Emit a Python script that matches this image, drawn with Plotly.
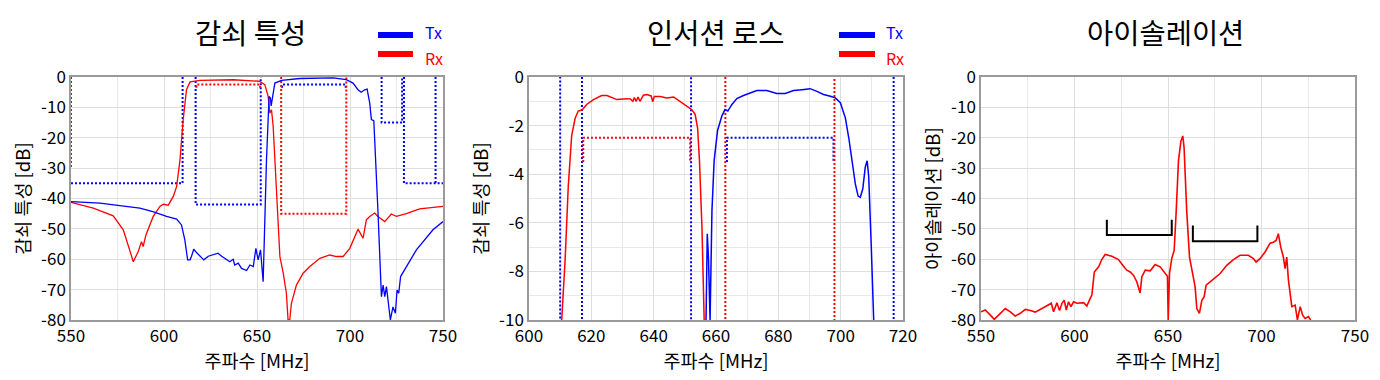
import plotly.graph_objects as go
from plotly.subplots import make_subplots

# ---------------- Panel 1: 감쇠 특성 (attenuation) ----------------
att_tx_f = [550, 565.6, 587, 594, 601.4, 606.8, 609.4, 611.2, 612.7, 614, 614.8, 616, 617.5, 619.3, 621.4,
            623.8, 626.5, 629, 631, 632.7, 635.4, 637.2, 638, 639.9, 641.7, 644.4, 646.2, 648, 649.4, 650.6,
            651.9, 653.3, 655.1, 656.5, 657.2, 657.6, 659.6, 663.2, 673, 691, 698, 701.6, 704.3, 706, 707.9,
            709.2, 710.6, 711.5, 712.8, 715, 716.9, 717.8, 718.7, 719.6, 720.5, 721.7, 723.1, 724.4, 725.3,
            726.2, 727.2, 735.7, 744.6, 750]
att_tx_db = [-41, -41.5, -43.2, -44.3, -45.9, -46.8, -48.7, -53.6, -60.2, -60.2, -59, -56.7, -57.8, -59, -60.2,
             -59, -58.6, -58, -59, -59.7, -60.8, -60, -61.9, -61.3, -63, -63.7, -61.9, -62.4, -56.4, -60.2,
             -56.9, -67.4, -27.3, -6.4, -6.9, -9.5, -2, -1.1, -0.5, -0.3, -0.9, -2, -4.2, -5, -4.2,
             -4, -8.6, -14, -14.4, -43.7, -72.3, -68.5, -72.3, -69, -73.4, -80, -75.7, -77.8, -70.1,
             -71.2, -65.7, -56.9, -50.3, -47.6]

att_rx_f = [550, 562, 572.7, 578.1, 583.5, 586.1, 587.9, 588.8, 590.3, 592.1, 594.2, 597.8, 599.6, 602.3,
            605, 606.8, 608.6, 610.3, 612.1, 614, 619.3, 637.2, 651.2, 654.2, 656, 656.9, 657.8, 658.7,
            660.5, 662.3, 664.1, 665.8, 666.7, 667.6, 668.5, 671.2, 674.8, 678.4, 683.8, 689.1, 692.7,
            696.3, 699.9, 702.6, 704.3, 707, 708.8, 710.6, 713.3, 715, 718.7, 722.2, 724.9, 730.3, 737.4, 750]
att_rx_db = [-41.3, -43.2, -45.7, -50.3, -60.8, -57.5, -54.2, -55.8, -52, -49, -45.9, -42.6, -41.9, -42.2,
             -39.3, -36, -27.3, -14.1, -4.2, -1.6, -1.1, -0.9, -1.4, -2.5, -6.4, -11.9, -10.8, -16.3,
             -38.2, -59.1, -64.6, -71.2, -80, -80, -74.5, -68.5, -64.6, -62.4, -59.7, -58.6, -59.1,
             -59.1, -56.4, -52.5, -50.1, -53.1, -47, -45.9, -44.8, -45.9, -47.6, -45.1, -45.9, -45, -43.4, -42.6]

# Spec masks (shared by panels 1 and 2)
tx_mask_f = [550, 610, 610, None, 617, 617, 652, 652, None, 663.5, 663.5, 697.7, 697.7, None,
             717, 717, 728, 728, None, 729, 729, 750, None, 746, 746]
tx_mask_db = [-35, -35, 0, None, 0, -42, -42, 0, None, -3.5, -2.5, -2.5, -3.5, None,
              0, -15, -15, 0, None, 0, -35, -35, None, 0, -35]
rx_mask_f = [550, 550, None, 617.4, 617.4, 651.7, 651.7, None, 663, 663, 698, 698]
rx_mask_db = [0, -30, None, -3.5, -2.5, -2.5, -3.5, None, 0, -45, -45, 0]

# ---------------- Panel 2: 인서션 로스 (insertion loss) ----------------
il_rx_f = [610.5, 611.6, 612.6, 613.7, 614.8, 615.8, 617.1, 618.5, 620.7, 623.3, 625, 628.2, 631.4, 632.5,
           633.3, 633.8, 634.4, 635, 635.6, 636.7, 637.8, 639.2, 639.7, 640.2, 642.1, 644.2, 646.4, 648.5,
           650.6, 652.2, 653.3, 654.1, 654.7, 655.5, 656.2]
il_rx_db = [-10, -7.5, -4.5, -2.4, -1.7, -1.4, -1.35, -1.13, -0.93, -0.76, -0.76, -0.93, -0.89, -0.9,
            -1.0, -0.85, -1.0, -0.82, -1.0, -0.75, -0.72, -0.78, -1.02, -0.8, -0.8, -0.86, -0.82, -1.0,
            -1.2, -1.34, -1.54, -2.1, -3.45, -6.2, -10]
il_tx_f = [656.8, 657.2, 657.6, 657.9, 658.1, 658.7, 659.4, 660.5, 661.9, 662.9, 663.8, 665.1, 666.7,
           668.8, 671, 673.1, 676.3, 679.5, 682.2, 684.9, 687.6, 690.2, 692.4, 694.5, 696.7, 698.3,
           699.9, 701.5, 702.6, 703.6, 704.7, 705.6, 706.3, 707.1, 707.9, 708.5, 709, 709.8, 710.6]
il_tx_db = [-10, -6.45, -7.5, -10, -10, -5.5, -3.45, -2.2, -1.6, -1.34, -1.4, -1.13, -0.89,
            -0.76, -0.65, -0.56, -0.56, -0.68, -0.68, -0.56, -0.52, -0.48, -0.59, -0.72, -0.79, -0.86,
            -1.06, -1.68, -2.5, -3.45, -4.4, -4.9, -4.95, -4.6, -3.7, -3.45, -4.1, -6.9, -10]

# ---------------- Panel 3: 아이솔레이션 (isolation) ----------------
iso_f = [550, 552.3, 555, 557.1, 559.4, 563, 565.7, 568.3, 571, 573.7, 576.4, 579, 582.6, 586.2, 587.6,
         588.8, 590.6, 592, 593.3, 594.5, 595.6, 596.8, 598.1, 599.5, 601.3, 604.9, 606.6, 608.4, 609.3,
         610.6, 612.9, 614.6, 616.4, 620, 623.5, 626.2, 628, 629.8, 631.6, 633.3, 635.1, 636, 637.8, 640.5,
         643.1, 645.8, 648.5, 649.7, 650.1, 650.8, 652, 653.3, 654.4, 655.6, 656.9, 657.9, 658.6, 660,
         661.5, 663.3, 664.5, 665.4, 666.8, 668.1, 669.3, 670.4, 673.4, 677.9, 681.4, 685, 688.5, 693,
         695.7, 697.1, 699.2, 701.9, 704.6, 706.4, 707.8, 709, 710.3, 711.7, 712.6, 713.5, 714.4, 715.3,
         716.2, 718, 719.2, 720.7, 722, 723.3, 725.1, 726.3]
iso_db = [-77.3, -76.7, -78.4, -79.8, -78.4, -76.2, -77.3, -78.7, -77.8, -76.5, -76.9, -77.4, -76.2, -75.1, -74.5,
          -77.3, -74.3, -76.9, -74.5, -73.5, -76.7, -74, -75.6, -74, -74.5, -74.3, -75.4, -72.9, -71.8,
          -64.2, -62.5, -60.1, -58.4, -59, -60.1, -62.3, -63.6, -64.2, -65.3, -67.4, -71.1, -65.8, -63.6, -63.8,
          -61.7, -62.5, -64.7, -65.6, -80, -64.7, -59.8, -57.1, -44, -27.6, -21.1, -19.4, -23.2, -44,
          -59.3, -64.7, -69.1, -76.2, -77.8, -73.5, -72.4, -68.5, -66.9, -64.7, -62, -60.1, -58.7, -58.7,
          -59.8, -60.9, -59.8, -57.6, -54.7, -54.4, -53.8, -51.6, -56, -59.3, -63.1, -59.3, -66.9, -72.4,
          -75.6, -75.1, -80, -75.6, -78.4, -79.5, -78.9, -80]
bracket_f = [617.3, 617.3, 652, 652, None, 663.3, 663.3, 697.8, 697.8]
bracket_db = [-47, -52, -52, -47, None, -48.9, -54.1, -54.1, -48.9]

# Tick labels
x_ticks_wide = [550, 600, 650, 700, 750]
x_ticks_narrow = [600, 620, 640, 660, 680, 700, 720]
y_ticks_80 = [0, -10, -20, -30, -40, -50, -60, -70, -80]
y_ticks_10 = [0, -2, -4, -6, -8, -10]

titles = ["감쇠 특성", "인서션 로스", "아이솔레이션"]
y_titles = ["감쇠 특성 [dB]", "감쇠 특성 [dB]", "아이솔레이션 [dB]"]
x_title = "주파수 [MHz]"
legend_names = ["Tx", "Rx"]

BLUE = "#0000ff"
RED = "#ff0000"
FONT = "Noto Sans CJK KR"
DOT = "2px,2px"

fig = make_subplots(rows=1, cols=3)

def line(x, y, color, col, width=1.3, dash=None):
    fig.add_trace(go.Scatter(x=x, y=y, mode="lines", line=dict(color=color, width=width, dash=dash),
                             showlegend=False, hoverinfo="skip", connectgaps=False), row=1, col=col)

# panel 1
line(tx_mask_f, tx_mask_db, BLUE, 1, 2, DOT)
line(rx_mask_f, rx_mask_db, RED, 1, 2, DOT)
line(att_rx_f, att_rx_db, RED, 1)
line(att_tx_f, att_tx_db, BLUE, 1)
# panel 2
line(tx_mask_f, tx_mask_db, BLUE, 2, 2, DOT)
line(rx_mask_f, rx_mask_db, RED, 2, 2, DOT)
line(il_rx_f, il_rx_db, RED, 2, 1.5)
line(il_tx_f, il_tx_db, BLUE, 2, 1.5)
# panel 3
line(iso_f, iso_db, RED, 3, 1.6)
line(bracket_f, bracket_db, "#000000", 3, 2)

W, H = 1380, 380
OFF = 8  # page body margin: reference pixel positions include it

def px(x):
    return (x - OFF) / W

def py(y):
    return 1 - (y - OFF) / H

top, bottom = 77, 320
ydom = [py(bottom), py(top)]
xdoms = [[px(71), px(443)], [px(529), px(903)], [px(981), px(1355)]]

axis_common = dict(showline=True, linecolor="#9a9a9a", linewidth=1.5, mirror=True,
                   showgrid=True, gridcolor="#dedede", gridwidth=1, ticks="", zeroline=False,
                   tickfont=dict(size=17, color="#000000", family=FONT), automargin=False,
                   title_font=dict(size=18.5, color="#000000", family=FONT))

for i in range(3):
    xa = "xaxis" if i == 0 else f"xaxis{i+1}"
    ya = "yaxis" if i == 0 else f"yaxis{i+1}"
    if i == 1:
        xr, xt, xminor = [600, 720], x_ticks_narrow, 10
        yr, yt, yminor = [-10, 0], y_ticks_10, 1
    else:
        xr, xt, xminor = [550, 750], x_ticks_wide, 25
        yr, yt, yminor = [-80, 0], y_ticks_80, None
    fig.layout[xa].update(domain=xdoms[i], range=xr, tickvals=xt, ticktext=[str(v) for v in xt],
                          minor=dict(dtick=xminor, showgrid=True, gridcolor="#e8e8e8", ticks=""),
                          title=dict(text=x_title, standoff=0), **axis_common)
    yupd = dict(domain=ydom, range=yr, tickvals=yt, ticktext=[str(v) for v in yt],
                title=dict(text=y_titles[i], standoff=6), **axis_common)
    if yminor:
        yupd["minor"] = dict(dtick=yminor, showgrid=True, gridcolor="#e8e8e8", ticks="")
    fig.layout[ya].update(**yupd)

# panel titles
title_x = [250, 716, 1165]
for tx, t in zip(title_x, titles):
    fig.add_annotation(x=px(tx), y=py(32), xref="paper", yref="paper", text=t, showarrow=False,
                       font=dict(size=28.5, color="#000000", family=FONT), xanchor="center", yanchor="middle")

# legends (panels 1 and 2)
for lx0, lx1, txt_x in [(378, 413, 424), (839, 875, 885)]:
    for name, color, ly, anchor in [(legend_names[0], BLUE, 35, "bottom"), (legend_names[1], RED, 54, "top")]:
        fig.add_shape(type="line", xref="paper", yref="paper", x0=px(lx0), x1=px(lx1),
                      y0=py(ly), y1=py(ly), line=dict(color=color, width=6))
        fig.add_annotation(x=px(txt_x), y=py(45), xref="paper", yref="paper", text=name,
                           showarrow=False, xanchor="left", yanchor=anchor, borderpad=0,
                           font=dict(size=16, color=color, family=FONT))

fig.update_layout(width=W, height=H, margin=dict(l=0, r=0, t=0, b=0),
                  paper_bgcolor="white", plot_bgcolor="white",
                  font=dict(family=FONT, color="#000000"), showlegend=False)

fig.write_html("out.html")
